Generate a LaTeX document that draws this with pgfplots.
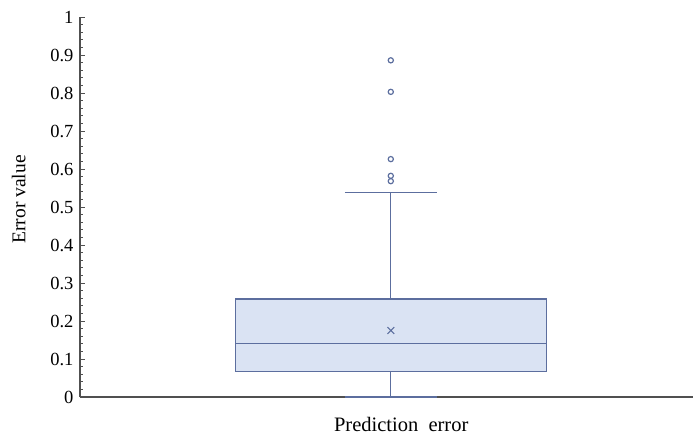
\documentclass[border=0pt]{standalone}
\usepackage{fontspec}
\setmainfont{Liberation Serif}
\usepackage{pgfplots}
\pgfplotsset{compat=1.18}
\usepgfplotslibrary{statistics}
\definecolor{boxedge}{RGB}{92,110,158}
\definecolor{boxfill}{RGB}{218,227,243}
\definecolor{axisgray}{RGB}{80,80,80}
\begin{document}
\begin{tikzpicture}
\begin{axis}[
  scale only axis,
  width=613bp, height=380bp,
  xmin=0, xmax=1, ymin=0, ymax=1,
  axis lines*=left,
  axis line style={axisgray, line width=1.1pt},
  xtick=\empty,
  ytick={0,0.1,...,1.01},
  minor y tick num=4,
  tick align=inside,
  major tick length=5bp, minor tick length=3bp,
  every tick/.style={axisgray, line width=0.7pt},
  /pgf/number format/assume math mode=true,
  yticklabel style={font=\fontsize{18.5bp}{20bp}\selectfont, xshift=-3bp},
  ylabel={Error value},
  ylabel style={font=\fontsize{19.5bp}{22bp}\selectfont, at={(axis description cs:0,0.52)}, anchor=south, yshift=51bp},
  xlabel={Prediction\ \ error},
  xlabel style={font=\fontsize{20.5bp}{23bp}\selectfont, at={(axis description cs:0.524,0)}, anchor=base, yshift=-35bp},
  clip=false,
  boxplot/every box/.style={draw=boxedge, fill=boxfill, line width=1.1pt},
  boxplot/every median/.style={draw=boxedge, line width=1.1pt},
  boxplot/every whisker/.style={draw=boxedge, line width=1.1pt},
]
\addplot+[
  boxplot/draw direction=y,
  boxplot prepared={
    lower whisker=0, lower quartile=0.068, median=0.14,
    upper quartile=0.258, upper whisker=0.538, average=0.175,
    draw position=0.507, box extend=0.507, whisker extend=0.15,
    every average/.style={/tikz/mark=x, mark size=4.8bp, /tikz/mark options={boxedge, line width=1pt, solid}},
  },
  draw=boxedge, fill=boxfill, line width=1.1pt, solid,
  mark=o, mark size=2.6bp, mark options={draw=boxedge, fill=none, line width=1.2pt},
] coordinates {(0,0.886) (0,0.803) (0,0.626) (0,0.582) (0,0.568)};
\path (rel axis cs:0,0) ++(-80bp,-37bp) (rel axis cs:1,1) ++(2bp,17bp);
\end{axis}
\end{tikzpicture}
\end{document}
